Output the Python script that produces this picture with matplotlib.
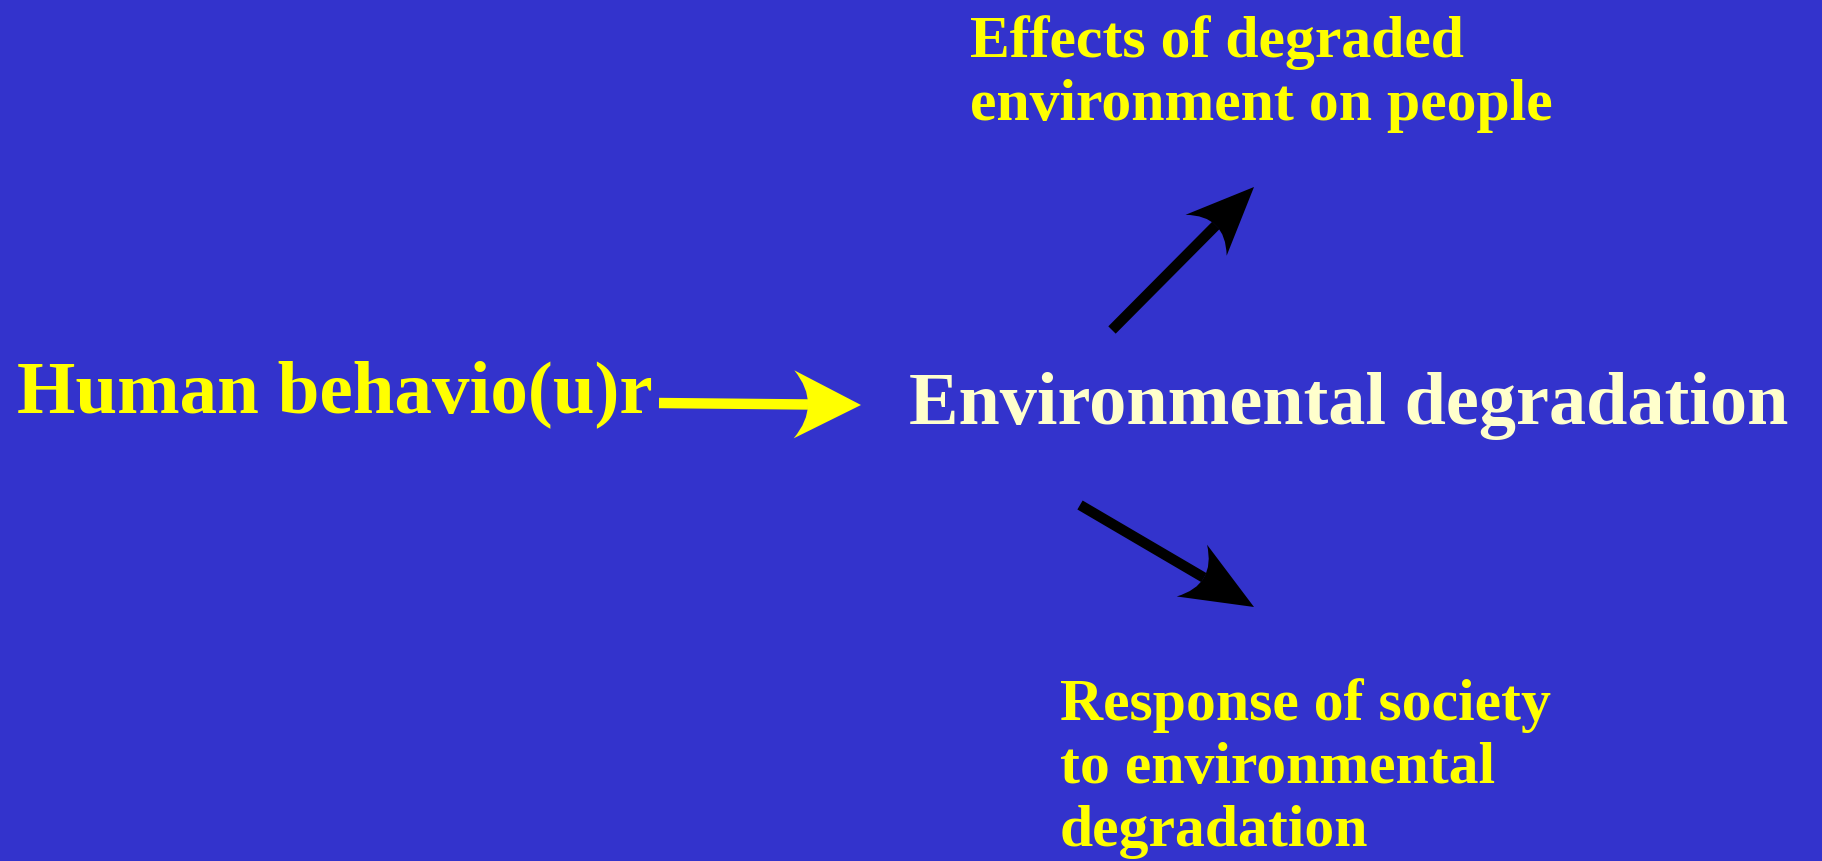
import numpy as np
import matplotlib
matplotlib.use('Agg')
import matplotlib.pyplot as plt
from matplotlib.path import Path
from matplotlib.patches import PathPatch

# colours
bg = '#3333cc'
yellow = '#ffff00'
cream = '#ffffcc'

# labels: x of left edge, baseline of the LAST line (pixels of the slide)
labels = ['Human behavio(u)r', 'Environmental degradation',
          'Effects of degraded\nenvironment on people',
          'Response of society\nto environmental\ndegradation']
label_x = [17, 909, 970, 1060]
label_y = [412, 424, 120, 846]
label_size = [54, 53.5, 43, 43]
label_color = [yellow, cream, yellow, yellow]

# arrows: tail, tip, colour
arrow_tail = [(659, 403), (1112, 330), (1080, 505)]
arrow_tip = [(861, 405), (1254, 187), (1254, 607)]
arrow_color = [yellow, 'black', 'black']
head_len = [67, 68, 72]
head_half = [34, 29, 30]

fig = plt.figure(figsize=(18.22, 8.61), dpi=100)
fig.patch.set_facecolor(bg)
ax = fig.add_axes([0, 0, 1, 1])
ax.set_facecolor(bg)
ax.set_xlim(0, 1822)
ax.set_ylim(861, 0)
ax.axis('off')

plt.rcParams['font.family'] = ['Liberation Serif', 'DejaVu Serif']

for t, x, y, s, c in zip(labels, label_x, label_y, label_size, label_color):
    ax.text(x, y, t, fontsize=s, color=c, fontweight='bold',
            ha='left', va='baseline', linespacing=1.22)


def draw_arrow(tail, tip, col, L, W):
    tail = np.array(tail, float)
    tip = np.array(tip, float)
    d = (tip - tail) / np.linalg.norm(tip - tail)
    n = np.array([-d[1], d[0]])
    notch = 14
    b1 = tip - L * d + W * n
    b2 = tip - L * d - W * n
    ctrl = tip - (L - 2 * notch) * d
    head = Path([tip, b1, ctrl, b2, tip],
                [Path.MOVETO, Path.LINETO, Path.CURVE3, Path.CURVE3, Path.CLOSEPOLY])
    ax.add_patch(PathPatch(head, facecolor=col, edgecolor='none'))
    end = tip - (L - notch) * d
    ax.plot([tail[0], end[0]], [tail[1], end[1]], color=col, lw=7.5,
            solid_capstyle='butt')


for tl, tp, c, L, W in zip(arrow_tail, arrow_tip, arrow_color, head_len, head_half):
    draw_arrow(tl, tp, c, L, W)

fig.savefig('out.png', dpi=100, facecolor=bg)
